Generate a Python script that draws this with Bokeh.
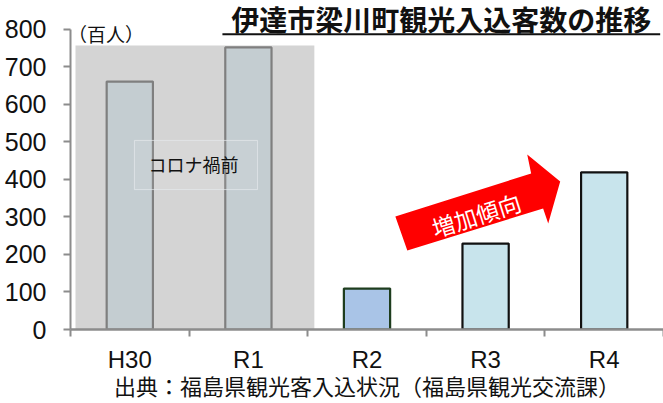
from bokeh.plotting import figure
from bokeh.models import FixedTicker, Range1d, Label, ColumnDataSource
from bokeh.embed import file_html
from bokeh.resources import INLINE

# ---- data ----
categories = ["H30", "R1", "R2", "R3", "R4"]
visitors = [661, 752, 109, 229, 419]          # 百人
bar_fill = ["#c4cdd1", "#c4cdd1", "#a9c4e7", "#c8e4ec", "#c8e4ec"]
bar_line = ["#7f7f7f", "#7f7f7f", "#1e3d1e", "#111111", "#111111"]
y_ticks = [0, 100, 200, 300, 400, 500, 600, 700, 800]

title_text = "伊達市梁川町観光入込客数の推移"
unit_text = "（百人）"
precovid_text = "コロナ禍前"
trend_text = "増加傾向"
source_text = "出典：福島県観光客入込状況（福島県観光交流課）"

# arrow outline (data coords)
arrow_x = [2.739, 3.884, 3.851, 4.129, 4.028, 3.985, 2.840]
arrow_y = [301.3, 416.0, 466.7, 394.7, 282.7, 322.7, 210.7]

JP = "Noto Sans CJK JP"
NUM = "Liberation Sans"

p = figure(width=663, height=403, output_backend="svg", toolbar_location=None,
           x_range=Range1d(0, 5.0), y_range=Range1d(0, 877),
           min_border_left=70, min_border_right=0, min_border_top=0,
           min_border_bottom=74)
p.outline_line_color = None
p.grid.grid_line_color = None
p.background_fill_color = "white"

# pre-covid shaded region
p.quad(left=[0.042], right=[2.056], bottom=[0], top=[757],
       fill_color="#d4d4d4", line_color=None)

# bars
src = ColumnDataSource(dict(x=[i + 0.5 for i in range(len(categories))],
                            top=visitors, fill=bar_fill, line=bar_line))
p.vbar(x="x", top="top", width=0.39, bottom=0, source=src,
       fill_color="fill", line_color="line", line_width=2.2)

# faint label box over the bars
p.quad(left=[0.539], right=[1.577], bottom=[373], top=[504],
       fill_color="white", fill_alpha=0.08, line_color="#e6eaec",
       line_alpha=0.7, line_width=1)
p.add_layout(Label(x=1.037, y=441, text=precovid_text, text_align="center",
                   text_baseline="middle", text_font=JP,
                   text_font_size="18px", text_color="#111111"))

# arrow
p.patch(arrow_x, arrow_y, fill_color="#ff0000", line_color=None)
p.add_layout(Label(x=3.42, y=306, text=trend_text, angle=0.305,
                   text_align="center", text_baseline="middle",
                   text_font=JP, text_font_size="23px",
                   text_color="white"))

# title with underline
p.add_layout(Label(x=3.126, y=828, text=title_text, text_align="center",
                   text_baseline="middle", text_font=JP,
                   text_font_size="28px", text_font_style="bold",
                   text_color="#111111"))
p.line([1.281, 4.972], [787, 787], line_color="#111111", line_width=2)

# unit label
p.add_layout(Label(x=0.30, y=789, text=unit_text, text_align="center",
                   text_baseline="middle", text_font=JP,
                   text_font_size="19px", text_color="#111111"))

# axes
yax = p.yaxis[0]
yax.ticker = FixedTicker(ticks=y_ticks)
yax.bounds = (0, 800)
yax.axis_line_color = "#8c8c8c"
yax.axis_line_width = 2
yax.major_tick_line_color = "#8c8c8c"
yax.major_tick_line_width = 2
yax.major_tick_out = 7
yax.major_tick_in = 0
yax.minor_tick_line_color = None
yax.major_label_standoff = 17
yax.major_label_text_font = NUM
yax.major_label_text_font_size = "25px"
yax.major_label_text_color = "#111111"

xax = p.xaxis[0]
xax.ticker = FixedTicker(ticks=[i + 0.5 for i in range(len(categories))],
                         minor_ticks=list(range(len(categories) + 1)))
xax.major_label_overrides = {i + 0.5: c for i, c in enumerate(categories)}
xax.axis_line_color = "#8c8c8c"
xax.axis_line_width = 2.5
xax.major_tick_line_color = None
xax.major_tick_out = 0
xax.major_tick_in = 0
xax.minor_tick_line_color = "#8c8c8c"
xax.minor_tick_line_width = 2
xax.minor_tick_out = 7
xax.minor_tick_in = 0
xax.major_label_standoff = 9
xax.major_label_text_font = NUM
xax.major_label_text_font_size = "24px"
xax.major_label_text_color = "#111111"
# source note as the x-axis label
xax.axis_label = source_text
xax.axis_label_standoff = -7
xax.axis_label_text_font = JP
xax.axis_label_text_font_size = "22px"
xax.axis_label_text_font_style = "normal"
xax.axis_label_text_color = "#111111"

open("out.html", "w").write(file_html(p, INLINE))
